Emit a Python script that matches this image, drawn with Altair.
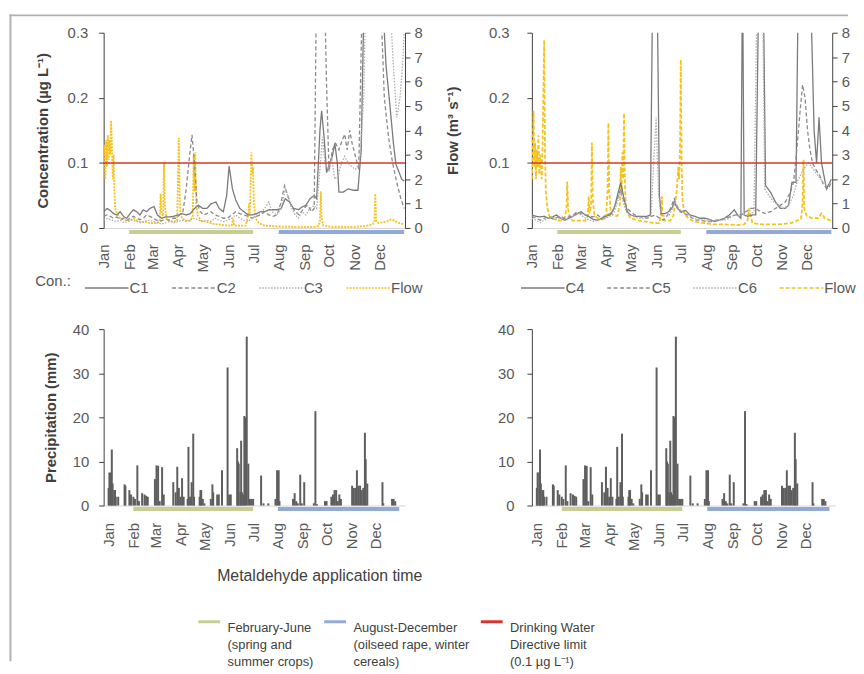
import altair as alt
import pandas as pd

# ---------------- data (day of year, value) ----------------
TL_C1 = [(0,.025),(4,.03),(8,.027),(12,.022),(16,.02),(20,.025),(24,.018),(28,.015),(32,.022),(36,.028),
         (40,.025),(44,.02),(48,.028),(52,.025),(56,.03),(61,.033),(65,.02),(70,.015),(75,.017),(80,.017),
         (85,.018),(90,.02),(95,.022),(100,.02),(105,.022),(110,.03),(115,.035),(120,.03),(125,.03),(130,.037),
         (136,.04),(140,.03),(145,.025),(149,.05),(152,.095),(156,.06),(160,.043),(165,.03),(170,.025),(175,.02),
         (180,.02),(185,.022),(190,.025),(195,.025),(200,.028),(205,.028),(210,.028),(215,.03),(220,.045),(225,.04),
         (230,.03),(236,.028),(240,.032),(245,.035),(250,.045),(255,.05),(258,.045),(262,.15),(264,.18),(267,.14),
         (270,.085),(274,.1),(277,.11),(280,.13),(283,.1),(285,.055),(290,.055),(296,.06),(302,.058),(308,.058),
         (312,.12),(316,.4),(336,.4),(342,.25),(347,.185),(351,.13),(354,.098),(358,.085),(361,.075),(364,.072)]
TL_C2 = [(0,.018),(4,.02),(8,.018),(12,.015),(16,.017),(20,.013),(24,.015),(28,.012),(32,.015),(36,.018),
         (40,.015),(44,.013),(48,.015),(52,.02),(56,.018),(60,.015),(64,.012),(68,.01),(72,.012),(76,.013),
         (80,.012),(84,.015),(88,.015),(92,.02),(96,.025),(100,.06),(104,.11),(107,.143),(110,.1),(113,.04),
         (117,.025),(121,.02),(125,.022),(130,.025),(135,.02),(140,.018),(145,.015),(150,.015),(155,.02),(160,.025),
         (165,.022),(170,.02),(175,.018),(180,.015),(185,.018),(190,.02),(195,.025),(200,.02),(205,.018),(210,.02),
         (215,.04),(219,.065),(223,.05),(227,.035),(232,.025),(237,.02),(242,.03),(247,.035),(252,.025),(255,.03),
         (258,.4),(267,.4),(270,.22),(273,.087),(277,.12),(281,.13),(285,.12),(289,.135),(292,.144),(295,.12),
         (298,.15),(301,.13),(305,.11),(309,.09),(314,.4),(334,.4),(340,.2),(345,.14),(350,.1),(355,.07),
         (360,.045),(364,.03)]
TL_C3 = [(0,.012),(5,.015),(10,.012),(15,.01),(20,.012),(25,.008),(30,.01),(35,.012),(40,.01),(45,.008),
         (50,.01),(55,.012),(60,.01),(65,.008),(70,.006),(75,.008),(80,.01),(85,.008),(90,.01),(95,.012),
         (100,.01),(105,.012),(110,.015),(115,.012),(120,.01),(125,.012),(130,.01),(135,.015),(140,.012),(145,.01),
         (150,.012),(155,.015),(160,.02),(165,.015),(170,.012),(175,.01),(180,.015),(185,.02),(190,.022),(195,.03),
         (200,.04),(204,.025),(210,.02),(215,.03),(220,.06),(224,.045),(228,.03),(232,.02),(236,.015),(240,.025),
         (245,.02),(250,.03),(255,.035),(258,.03),(262,.09),(265,.14),(268,.1),(272,.09),(276,.11),(280,.075),
         (284,.08),(288,.1),(292,.11),(296,.1),(300,.095),(305,.09),(310,.1),(315,.2),(318,.4),(345,.4),
         (350,.27),(355,.17),(359,.2),(362,.25),(364,.3)]
TL_FLOW = [(0,3.0),(1,3.4),(2,2.0),(3,3.6),(4,2.5),(5,3.8),(6,2.8),(7,3.6),(8,3.0),(9,4.4),(10,3.5),(11,2.0),
           (12,3.0),(13,1.5),(14,0.8),(16,0.6),(18,0.5),(20,0.4),(24,0.35),(28,0.3),(32,0.3),(36,0.4),(40,0.3),
           (45,0.25),(50,0.25),(55,0.2),(60,0.2),(65,0.2),(68,0.3),(69,1.4),(70,0.6),(72,0.5),(73,2.7),(74,1.0),
           (76,0.4),(80,0.3),(85,0.25),(89,0.3),(90,2.0),(91,3.7),(92,1.5),(93,0.6),(95,0.4),(100,0.3),(105,0.3),
           (108,0.5),(109,3.0),(110,1.5),(111,3.1),(112,1.0),(114,0.5),(118,0.3),(125,0.25),(130,0.2),(135,0.15),
           (140,0.15),(145,0.12),(150,0.1),(155,0.1),(157,0.4),(158,0.1),(165,0.1),(172,0.1),(175,0.5),(176,1.0),
           (177,0.5),(178,1.8),(179,3.1),(180,2.2),(181,2.5),(182,1.0),(184,0.4),(188,0.2),(195,0.1),(205,0.08),
           (215,0.06),(230,0.05),(245,0.05),(255,0.05),(260,0.08),(262,0.3),(263,1.5),(264,0.4),(266,0.1),
           (275,0.05),(290,0.05),(305,0.05),(320,0.1),(326,0.15),(328,0.3),(329,1.4),(330,0.3),(333,0.2),
           (340,0.25),(345,0.3),(348,0.35),(352,0.3),(358,0.2),(364,0.15)]

TR_C4 = [(0,.02),(5,.018),(10,.017),(15,.018),(20,.015),(25,.017),(30,.02),(35,.015),(40,.012),(45,.015),
         (50,.018),(55,.022),(60,.025),(65,.02),(70,.017),(75,.013),(80,.012),(85,.015),(90,.018),(95,.02),
         (100,.03),(104,.05),(108,.07),(112,.045),(116,.025),(120,.02),(125,.018),(130,.018),(135,.018),(140,.018),
         (144,.02),(147,.4),(152,.4),(155,.05),(157,.022),(162,.022),(166,.025),(170,.03),(173,.04),(177,.03),
         (182,.025),(187,.027),(192,.02),(198,.018),(204,.015),(210,.015),(216,.013),(222,.01),(228,.012),(234,.015),
         (240,.02),(246,.028),(250,.02),(254,.015),(256,.4),(258,.02),(262,.018),(268,.02),(272,.02),(276,.4),
         (281,.4),(284,.065),(290,.055),(296,.04),(302,.03),(308,.03),(312,.035),(316,.07),(321,.07),(324,.4),
         (338,.4),(343,.15),(346,.1),(349,.17),(352,.1),(355,.08),(358,.06),(362,.07),(364,.075)]
TR_C5 = [(0,.018),(5,.015),(10,.012),(15,.015),(20,.017),(25,.014),(30,.016),(35,.018),(40,.015),(45,.017),
         (50,.02),(55,.025),(60,.022),(65,.02),(70,.018),(75,.017),(80,.02),(85,.015),(90,.02),(95,.022),
         (100,.03),(104,.045),(108,.06),(112,.04),(116,.03),(120,.025),(125,.02),(130,.018),(135,.016),(140,.015),
         (145,.018),(150,.02),(155,.015),(160,.012),(165,.02),(170,.035),(173,.045),(176,.035),(180,.025),(185,.022),
         (190,.02),(195,.015),(200,.012),(206,.012),(212,.01),(218,.01),(224,.012),(230,.013),(236,.015),(242,.018),
         (248,.02),(254,.02),(260,.025),(266,.03),(272,.03),(278,.025),(284,.022),(290,.025),(296,.03),(302,.035),
         (308,.04),(314,.055),(318,.07),(322,.12),(326,.18),(329,.22),(332,.2),(335,.15),(338,.12),(341,.1),
         (345,.09),(350,.08),(355,.065),(360,.06),(364,.07)]
TR_C6 = [(0,.015),(5,.012),(10,.008),(15,.012),(20,.015),(25,.017),(30,.013),(35,.015),(40,.012),(45,.014),
         (50,.018),(55,.022),(60,.02),(65,.015),(70,.012),(75,.01),(80,.012),(85,.013),(90,.015),(95,.018),
         (100,.025),(104,.04),(108,.055),(112,.035),(116,.022),(120,.02),(125,.017),(130,.015),(135,.015),(140,.015),
         (145,.02),(148,.1),(151,.17),(154,.05),(157,.02),(162,.018),(167,.02),(171,.03),(174,.04),(178,.03),
         (183,.025),(190,.02),(196,.015),(202,.013),(210,.012),(218,.01),(226,.012),(234,.012),(240,.015),(246,.02),
         (252,.018),(258,.02),(264,.02),(270,.025),(274,.4),(280,.4),(283,.06),(288,.05),(294,.04),(300,.035),
         (306,.03),(312,.035),(318,.05),(322,.07),(326,.08),(330,.09),(336,.1),(342,.09),(348,.08),(354,.07),
         (360,.065),(364,.07)]
TR_FLOW = [(0,2.0),(1,3.0),(2,4.8),(3,2.5),(4,3.5),(5,2.0),(6,3.2),(7,2.5),(8,3.8),(9,2.2),(10,3.0),(11,2.5),
           (12,2.0),(13,3.5),(14,5.5),(15,7.7),(16,3.0),(17,1.5),(19,0.8),(21,0.5),(24,0.4),(28,0.35),(32,0.3),
           (36,0.3),(40,0.4),(42,0.8),(43,1.9),(44,0.8),(46,0.4),(50,0.3),(55,0.3),(60,0.3),(65,0.3),(68,0.5),
           (69,1.3),(70,0.6),(72,0.9),(73,3.5),(74,1.2),(76,0.5),(80,0.4),(85,0.35),(90,0.4),(92,1.5),(93,4.3),
           (94,1.5),(96,0.6),(100,0.5),(104,0.5),(107,1.0),(108,2.5),(109,1.5),(110,3.1),(111,2.0),(112,4.7),
           (113,2.0),(114,1.0),(116,0.6),(120,0.4),(125,0.35),(130,0.3),(140,0.25),(150,0.2),(155,0.2),(157,0.6),
           (158,1.3),(159,0.4),(162,0.3),(168,0.3),(172,0.5),(174,1.0),(176,1.5),(178,2.5),(179,2.0),(180,3.3),
           (181,6.9),(182,2.5),(183,1.2),(185,0.6),(190,0.4),(195,0.3),(200,0.25),(210,0.2),(220,0.15),(235,0.15),
           (250,0.12),(258,0.15),(262,0.3),(264,0.8),(266,0.5),(268,0.2),(280,0.15),(300,0.15),(315,0.2),(322,0.3),
           (327,0.35),(329,1.0),(330,2.8),(331,0.8),(334,0.5),(340,0.4),(348,0.4),(352,0.6),(356,0.4),(364,0.3)]

PRECIP = [(0,4),(1,7.5),(3,7.5),(4,12.7),(5,5),(7,3.5),(8,3.5),(9,2),(12,2),(20,4.8),(21,4.5),(26,3.5),
          (28,2.5),(31,2),(33,1.5),(36,9.1),(38,1),(42,2.8),(45,2.5),(47,2.2),(49,2),(58,6),(60,9.1),(62,9),
          (64,1),(67,8.7),(69,2.5),(81,5.3),(84,3),(86,8.8),(88,4),(90,2),(92,6.2),(94,2),(99,1.5),(100,13.3),
          (102,2),(104,5.3),(106,16.3),(107,2),(114,2),(115,3.5),(116,3.5),(118,1.5),(120,0.5),(128,1.5),
          (130,4.8),(131,3),(136,2.5),(138,2.5),(142,8),(149,31.3),(151,2.5),(153,2.5),(161,13),(162,10),
          (163,9.5),(165,3),(166,14.7),(167,3),(169,2.5),(170,20.3),(171,20),(173,38.3),(175,9.5),(177,1.5),
          (179,1.5),(181,1.5),(191,6.8),(194,0.5),(200,0.5),(209,1.5),(211,8),(213,8),(214,1),(231,1.5),
          (233,2.8),(235,1),(237,0.5),(240,7),(242,0.5),(245,5.3),(257,0.5),(259,21.4),(261,0.3),(271,1),
          (273,1),(279,2),(281,2.5),(283,3.5),(285,3.5),(287,1),(289,2.5),(291,1.5),(305,4.5),(307,4),(309,4),
          (311,8),(313,4.5),(315,4.5),(317,3.5),(319,4),(321,16.5),(322,10.5),(324,5),(343,5.3),(344,0.5),
          (355,1.5),(357,1.5),(359,1)]

LIMIT = [0.1]
APP_LABELS = ["February-June\n(spring and\nsummer crops)",
              "August-December\n(oilseed rape, winter\ncereals)"]
LIMIT_LABEL = "Drinking Water\nDirective limit\n(0.1 \u00b5g L\u207b\u00b9)"
APP_START = ["2015-02-01T00:00:00", "2015-08-01T00:00:00"]
APP_END = ["2015-07-01T00:00:00", "2015-12-31T00:00:00"]

# ---------------- helpers ----------------
BASE = pd.Timestamp("2015-01-01")
FONT = "Liberation Sans"
NARROW = "Liberation Sans Narrow, Liberation Sans, sans-serif"
GRAY = "#595959"
DARK = "#404040"
GREEN = "#c8ce92"
BLUE = "#93a9d8"
RED = "#d8342b"
YELLOW = "#f6c21c"

X_DOMAIN = [alt.DateTime(year=2015, month=1, date=1), alt.DateTime(year=2016, month=1, date=1)]
MONTH_TICKS = [alt.DateTime(year=2015, month=m, date=1) for m in range(1, 13)]


def to_dates(days):
    return [(BASE + pd.Timedelta(days=float(d))).strftime("%Y-%m-%dT%H:%M:%S") for d in days]


def pairs_df(pairs, name, vcol):
    return pd.DataFrame({"date": to_dates([p[0] for p in pairs]),
                         vcol: [p[1] for p in pairs], "series": name})


def month_axis(pad, **kw):
    opts = dict(values=MONTH_TICKS, format="%b", labelAngle=270, labelFontSize=15,
                labelColor=GRAY, labelPadding=pad, ticks=False, domainColor="#d6d6d6",
                grid=False, labelFont=FONT, labelOverlap=False)
    opts.update(kw)
    if "title" not in opts:
        opts["title"] = None
    return alt.Axis(**opts)


def xenc(field, axis):
    return alt.X(f"{field}:T", scale=alt.Scale(domain=X_DOMAIN), axis=axis)


def app_rules(axis, ydatum, with_legend=None):
    layers = []
    df = pd.DataFrame({"period": APP_LABELS, "start": APP_START, "end": APP_END})
    if with_legend is not None:
        layers.append(alt.Chart(df).mark_rule(strokeWidth=4).encode(
            x=xenc("start", axis), x2="end:T", y=alt.datum(ydatum),
            color=alt.Color("period:N",
                            scale=alt.Scale(domain=APP_LABELS + [LIMIT_LABEL], range=[GREEN, BLUE, RED]),
                            legend=with_legend)))
    else:
        for i, col in enumerate([GREEN, BLUE]):
            layers.append(alt.Chart(df.iloc[[i]]).mark_rule(strokeWidth=4, color=col).encode(
                x=xenc("start", axis), x2="end:T", y=alt.datum(ydatum)))
    return layers


def conc_panel(series, names, flow, flow_dash, width, height, legend_opts,
               left_axis, right_axis, extra=None):
    dom = names + ["Flow"]
    legend = alt.Legend(orient="none", direction="horizontal", symbolType="stroke",
                        symbolSize=44 * 44, symbolStrokeWidth=1.5, labelFontSize=15,
                        labelColor=GRAY, labelFont=FONT, labelOffset=0, padding=0,
                        **legend_opts)
    color = alt.Color("series:N", scale=alt.Scale(domain=dom, range=["#7a7a7a", "#8a8a8a", "#adadad", YELLOW]),
                      legend=legend)
    dash = alt.StrokeDash("series:N", scale=alt.Scale(domain=dom, range=[[1, 0], [4, 2.5], [1.5, 1.5], flow_dash]),
                          legend=legend)
    xa = month_axis(16)
    cdf = pd.concat([pairs_df(s, n, "value") for s, n in zip(series, names)], ignore_index=True)
    fdf = pairs_df(flow, "Flow", "flow")

    flow_line = alt.Chart(fdf).mark_line(clip=True, strokeWidth=1.8).encode(
        x=xenc("date", xa),
        y=alt.Y("flow:Q", scale=alt.Scale(domain=[0, 8], nice=False), axis=right_axis),
        color=color, strokeDash=dash)
    conc_line = alt.Chart(cdf).mark_line(clip=True, strokeWidth=1.3).encode(
        x=xenc("date", xa),
        y=alt.Y("value:Q", scale=alt.Scale(domain=[0, 0.3], nice=False), axis=left_axis),
        color=color, strokeDash=dash)
    limit = alt.Chart(pd.DataFrame({"value": LIMIT})).mark_rule(color=RED, strokeWidth=1.5).encode(
        y="value:Q")
    left_layers = [conc_line, limit] + app_rules(xa, -0.006)
    if extra:
        left_layers += extra
    left = alt.layer(*left_layers)
    return alt.layer(flow_line, left).resolve_scale(y="independent").properties(width=width, height=height)


def y_axis(values, orient, pad, title=None, fmt="~g", **kw):
    opts = dict(values=values, format=fmt, orient=orient, labelFontSize=15, labelColor=GRAY,
                labelPadding=pad, tickSize=5, tickColor=DARK, domainColor=DARK, grid=False,
                labelFont=FONT, labelOverlap=False, title=title, titleFontSize=15,
                titleFontWeight="bold", titleColor=DARK, titleFont=FONT)
    opts.update(kw)
    return alt.Axis(**opts)


CONC_TICKS = [0, 0.05, 0.1, 0.15, 0.2, 0.25, 0.3]
FLOW_TICKS = list(range(0, 9))
PREC_TICKS = list(range(0, 45, 5))

# frame around the figure (decoration)
frame = [
    alt.Chart(pd.DataFrame({"edge": ["top"]})).mark_rect(color="#b0b0b0").encode(
        x=alt.value(-95), x2=alt.value(751), y=alt.value(-18.5), y2=alt.value(-16.5)),
    alt.Chart(pd.DataFrame({"edge": ["left"]})).mark_rect(color="#b0b0b0").encode(
        x=alt.value(-95), x2=alt.value(-93), y=alt.value(-18.5), y2=alt.value(634)),
]

tl = conc_panel(
    [TL_C1, TL_C2, TL_C3], ["C1", "C2", "C3"], TL_FLOW, [2, 1.2], 304, 197,
    dict(legendX=-69, legendY=234.5, title="Con.:", titleOrient="left", titleFontSize=15,
         titleFontWeight="normal", titleColor=GRAY, titleFont=FONT, titlePadding=13,
         titleAnchor="middle", titleBaseline="middle", columnPadding=20),
    y_axis(CONC_TICKS, "left", 11, title="Concentration (\u00b5g L\u207b\u00b9)", titlePadding=17),
    y_axis(FLOW_TICKS, "right", 4, title="Flow (m\u00b3 s\u207b\u00b9)", titleAngle=270, titlePadding=39),
    extra=frame)

tr = conc_panel(
    [TR_C4, TR_C5, TR_C6], ["C4", "C5", "C6"], TR_FLOW, [4, 2], 303, 197,
    dict(legendX=-12, legendY=234.5, title=None, columnPadding=19),
    y_axis(CONC_TICKS, "left", 18),
    y_axis(FLOW_TICKS, "right", 4))

pdf = pairs_df(PRECIP, "P", "mm")


def precip_panel(width, pad, axis, legend=None):
    bars = alt.Chart(pdf).mark_bar(width=2, color="#5e5e5e").encode(
        x=xenc("date", axis),
        y=alt.Y("mm:Q", scale=alt.Scale(domain=[0, 40], nice=False), axis=pad))
    return alt.layer(bars, *app_rules(axis, -0.8, with_legend=legend)).properties(width=width, height=178)


bl_legend = alt.Legend(orient="none", legendX=94, legendY=282.5, direction="horizontal", title=None,
                       symbolType="stroke", symbolSize=22 * 22, symbolStrokeWidth=3,
                       labelFont=NARROW, labelFontSize=13, labelColor=DARK, labelOffset=6,
                       columnPadding=4, labelExpr="split(datum.label, '\\n')", labelBaseline="top",
                       labelLimit=300, padding=0)

bl = precip_panel(
    304,
    y_axis(PREC_TICKS, "left", 10, title="Precipitation (mm)", fmt="d", titlePadding=14),
    month_axis(17, title="Metaldehyde application time", titleX=114, titleY=76, titleAlign="left",
               titleBaseline="alphabetic", titleFontSize=16, titleFontWeight="normal",
               titleColor=DARK, titleFont=FONT),
    legend=bl_legend)

br = precip_panel(306, y_axis(PREC_TICKS, "left", 13, fmt="d"), month_axis(17))

chart = alt.concat(
    tl, tr, bl, br, columns=2, spacing=alt.RowColnumber(row=102, column=128), bounds="flush"
).resolve_scale(
    color="independent", strokeDash="independent"
).properties(
    padding={"left": 1.5, "top": 3, "right": 0, "bottom": 0}
).configure(
    view={"stroke": None},
    style={"guide-label": {"lineHeight": 17.5}},
)

chart.save("out.html", embed_options={"renderer": "svg", "actions": False})
